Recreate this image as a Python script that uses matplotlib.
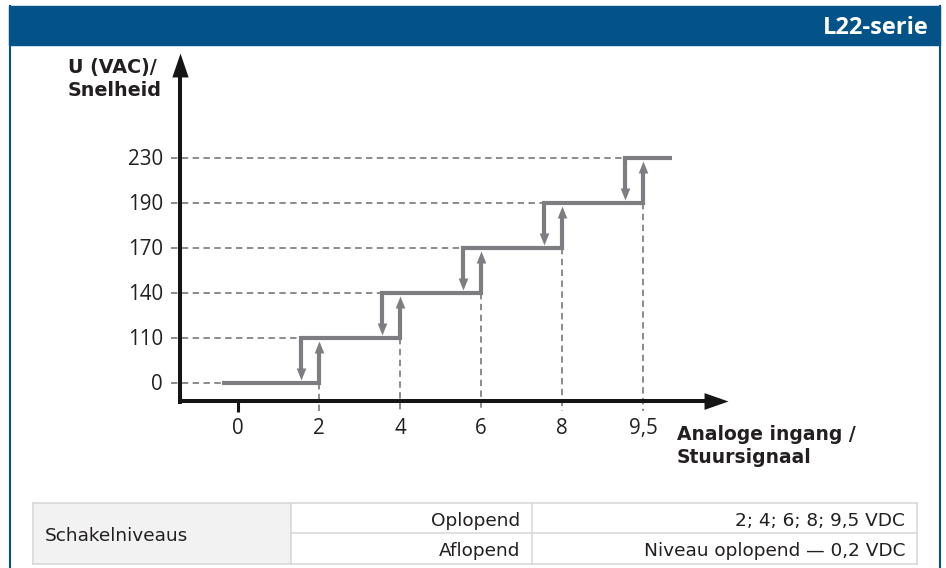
import matplotlib
matplotlib.use("Agg")
import matplotlib.pyplot as plt
from matplotlib.patches import Rectangle
from matplotlib.path import Path

# ---------------- data ----------------
x_values = [0, 2, 4, 6, 8, 9.5]            # analoge ingang (VDC)
x_labels = ["0", "2", "4", "6", "8", "9,5"]
y_values = [0, 110, 140, 170, 190, 230]     # U (VAC)
y_labels = ["0", "110", "140", "170", "190", "230"]
switch_up = [2, 4, 6, 8, 9.5]               # switching levels rising
hysteresis = 0.2                            # falling = rising - 0.2 VDC

header_title = "L22-serie"
y_axis_title = ["U (VAC)/", "Snelheid"]
x_axis_title = ["Analoge ingang /", "Stuursignaal"]
table_label = "Schakelniveaus"
table_rows = ["Oplopend", "Aflopend"]
table_values = ["; ".join(l for l in x_labels if l != "0") + " VDC",
                "Niveau oplopend — " + str(hysteresis).replace(".", ",") + " VDC"]

# ---------------- style ----------------
W, H = 946, 568
BLUE = "#035288"
STEP = "#7e7e82"
DASH = "#828282"
INK = "#231f20"
AXC = "#151515"
TICKFONT = "Open Sans"
plt.rcParams["lines.scale_dashes"] = False

fig = plt.figure(figsize=(W / 100, H / 100), dpi=100)


def fx(px):
    return px / W


def fy(py):
    return 1 - py / H


# frame + header
fig.patches.append(Rectangle((fx(9), fy(45)), fx(940) - fx(9), fy(6) - fy(45),
                             transform=fig.transFigure, color=BLUE, zorder=0))
for xx in (9.5, 939.5):
    fig.lines.append(plt.Line2D([fx(xx), fx(xx)], [fy(6), fy(568)],
                                transform=fig.transFigure, color=BLUE, lw=1.5))
fig.text(fx(929), fy(34), header_title, color="white", fontsize=17,
         fontweight="bold", family="Open Sans", ha="right", va="baseline")

# axes in "index" coordinates (categories equally spaced)
ax = fig.add_axes([fx(157), fy(428), 648 / W, 405 / H])
ax.set_xlim(-1, 7)
ax.set_ylim(-1, 8)
ax.axis("off")

xi = {v: i for i, v in enumerate(x_values)}
n = len(y_values)
DOWN_SHIFT = 0.22     # drawn width of hysteresis
START = -0.2          # start of curve
END = 5.36            # end of top level
GAP = 0.065           # arrow tip gap to level line
HEAD = 12 / 45        # arrow head length in y-index units

up_head = Path([(0, 0), (-0.4, -1), (0.4, -1), (0, 0)],
               [Path.MOVETO, Path.LINETO, Path.LINETO, Path.CLOSEPOLY])
dn_head = Path([(0, 0), (-0.4, 1), (0.4, 1), (0, 0)],
               [Path.MOVETO, Path.LINETO, Path.LINETO, Path.CLOSEPOLY])
ax_up_head = Path([(0, 0), (-0.34, -1), (0.34, -1), (0, 0)],
                  [Path.MOVETO, Path.LINETO, Path.LINETO, Path.CLOSEPOLY])

AX_Y = -0.411         # y-index of the x axis line
AX_X = -0.716         # x-index of the y axis line
LEFT_DASH = -0.83
BOTTOM_DASH = -0.62

# dashed guide lines (horizontal)
for L in range(n):
    start = START if L == 0 else xi[switch_up[L - 1]] - DOWN_SHIFT
    ax.plot([LEFT_DASH, start], [L, L], color=DASH, lw=1.3,
            dashes=[4.6, 3.2], clip_on=False, zorder=1)
# dashed guide lines (vertical)
for k, s in enumerate(switch_up):
    ax.plot([xi[s], xi[s]], [k, BOTTOM_DASH], color=DASH, lw=1.3,
            dashes=[4.6, 3.2], clip_on=False, zorder=1)

# step (hysteresis) curve
for L in range(n):
    xs, ys = [], []
    if L == 0:
        xs.append(START); ys.append(L)
    else:
        xd = xi[switch_up[L - 1]] - DOWN_SHIFT
        xs += [xd, xd]; ys += [L - 1 + GAP + HEAD * 0.6, L]
    if L < n - 1:
        xu = xi[switch_up[L]]
        xs += [xu, xu]; ys += [L, L + 1 - GAP - HEAD * 0.6]
    else:
        xs.append(END); ys.append(L)
    ax.plot(xs, ys, color=STEP, lw=3.0, solid_joinstyle="miter",
            solid_capstyle="butt", clip_on=False, zorder=3)

for k, s in enumerate(switch_up):
    ax.plot([xi[s]], [k + 1 - GAP], marker=up_head, markersize=17.3,
            color=STEP, markeredgewidth=0, clip_on=False, zorder=4)
    ax.plot([xi[s] - DOWN_SHIFT], [k + GAP], marker=dn_head, markersize=17.3,
            color=STEP, markeredgewidth=0, clip_on=False, zorder=4)

# axes with arrows
ax.plot([AX_X, AX_X], [-0.456, 7.0], color=AXC, lw=2.9, solid_capstyle="butt",
        clip_on=False, zorder=5)
ax.plot([AX_X], [7.33], marker=ax_up_head, markersize=34.5, color=AXC,
        markeredgewidth=0, clip_on=False, zorder=5)
right_head = Path([(0, 0), (-1, -0.35), (-1, 0.35), (0, 0)],
                  [Path.MOVETO, Path.LINETO, Path.LINETO, Path.CLOSEPOLY])
ax.plot([-0.74, 5.8], [AX_Y, AX_Y], color=AXC, lw=2.9, solid_capstyle="butt",
        clip_on=False, zorder=5)
ax.plot([6.05], [AX_Y], marker=right_head, markersize=34.5, color=AXC,
        markeredgewidth=0, clip_on=False, zorder=5)
# zero tick
ax.plot([0, 0], [AX_Y, BOTTOM_DASH - 0.02], color=AXC, lw=2.2,
        solid_capstyle="butt", clip_on=False, zorder=5)

# tick labels
for j, lab in enumerate(y_labels):
    ax.text(-0.926, j - 7 / 45, lab, ha="right", va="baseline", fontsize=14.8,
            family=TICKFONT, color=INK)
for i, lab in enumerate(x_labels):
    ax.text(i, (383 - 434) / 45, lab, ha="center", va="baseline",
            fontsize=14.8, family=TICKFONT, color=INK)

# axis titles
fig.text(fx(68), fy(73), y_axis_title[0], fontsize=13.8, fontweight="bold",
         family="DejaVu Sans", color=INK, ha="left", va="baseline")
fig.text(fx(68), fy(96), y_axis_title[1], fontsize=13.8, fontweight="bold",
         family="DejaVu Sans", color=INK, ha="left", va="baseline")
fig.text(fx(677), fy(440), x_axis_title[0], fontsize=13.5, fontweight="bold",
         family="DejaVu Sans", color=INK, ha="left", va="baseline")
fig.text(fx(677), fy(463), x_axis_title[1], fontsize=13.5, fontweight="bold",
         family="DejaVu Sans", color=INK, ha="left", va="baseline")

# table
cols = [33, 291, 532, 917]
rows = [503, 533, 564]
BORDER = "#d6d6d6"
fig.patches.append(Rectangle((fx(cols[0]), fy(rows[2])), (cols[1] - cols[0]) / W,
                             (rows[2] - rows[0]) / H, transform=fig.transFigure,
                             facecolor="#f2f2f2", edgecolor="none", zorder=1))


def hline(x0, x1, y):
    fig.lines.append(plt.Line2D([fx(x0), fx(x1)], [fy(y), fy(y)],
                                transform=fig.transFigure, color=BORDER, lw=1.1))


def vline(x, y0, y1):
    fig.lines.append(plt.Line2D([fx(x), fx(x)], [fy(y0), fy(y1)],
                                transform=fig.transFigure, color=BORDER, lw=1.1))


hline(cols[0], cols[3], rows[0])
hline(cols[0], cols[3], rows[2])
hline(cols[1], cols[3], rows[1])
for c in cols:
    vline(c, rows[0], rows[2])

TF = 13.3
fig.text(fx(45), fy(541), table_label, fontsize=TF, family="DejaVu Sans",
         color=INK, ha="left", va="baseline")
for r, (name, val) in enumerate(zip(table_rows, table_values)):
    base = rows[r] + 23
    fig.text(fx(cols[2] - 12), fy(base), name, fontsize=TF, family="DejaVu Sans",
             color=INK, ha="right", va="baseline")
    fig.text(fx(cols[3] - 12), fy(base), val, fontsize=TF, family="DejaVu Sans",
             color=INK, ha="right", va="baseline")

fig.savefig("out.png", dpi=100)
